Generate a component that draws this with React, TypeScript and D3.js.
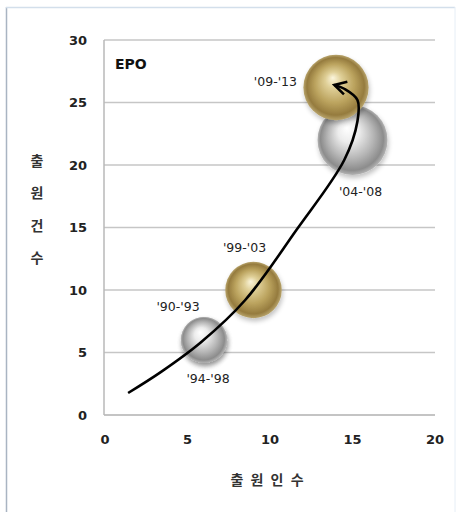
import React from "react";
import * as d3 from "d3";

const W = 458;
const H = 512;

const periods = ["'90-'93", "'94-'98", "'99-'03", "'04-'08", "'09-'13"];
const applicants = [6, 6, 9, 15, 14];
const applications = [6, 6, 10, 22, 26.2];
const bubbleSize = [5, 5, 7.5, 11.5, 10];
const bubbleTone = ["silver", "silver", "gold", "silver", "gold"];

const xTicks = [0, 5, 10, 15, 20];
const yTicks = [0, 5, 10, 15, 20, 25, 30];

const trendPath: [number, number][] = [
  [1.4, 1.76],
  [3.4, 3.45],
  [5.8, 5.8],
  [8.5, 9.2],
  [11.6, 14.8],
  [14.5, 20.4],
  [15.3, 23.5],
  [15.3, 25.2],
  [14.5, 26.1],
  [13.9, 26.4],
];

// label offsets (px) relative to bubble centre
const labelOffset: [number, number, string][] = [
  [-26, -33, "middle"],
  [4, 39, "middle"],
  [-9, -42, "middle"],
  [8, 52, "middle"],
  [-39, -6, "end"],
];

const yTitle = ["출", "원", "건", "수"];

export default function App() {
  const x = d3.scaleLinear().domain([0, 20]).range([105, 435]);
  const y = d3.scaleLinear().domain([0, 30]).range([415, 40]);
  const r = d3.scaleSqrt().domain([0, 11.5]).range([0, 35]);
  const line = d3
    .line<[number, number]>()
    .x((d) => x(d[0]))
    .y((d) => y(d[1]))
    .curve(d3.curveCatmullRom.alpha(0.5));

  const drawOrder = [0, 1, 2, 3, 4];

  return (
    <div style={{ position: "absolute", left: 0, top: 0 }}>
      <svg width={W} height={H} style={{ display: "block", fontFamily: "'DejaVu Sans', sans-serif" }}>
        <defs>
          <radialGradient id="gold" cx="50%" cy="50%" r="50%" fx="45%" fy="35%">
            <stop offset="0%" stopColor="#fbf5dc" />
            <stop offset="25%" stopColor="#dfcf97" />
            <stop offset="60%" stopColor="#bba35e" />
            <stop offset="88%" stopColor="#957b3e" />
            <stop offset="100%" stopColor="#b8a46c" />
          </radialGradient>
          <radialGradient id="silver" cx="50%" cy="50%" r="50%" fx="42%" fy="33%">
            <stop offset="0%" stopColor="#ffffff" />
            <stop offset="30%" stopColor="#ececec" />
            <stop offset="65%" stopColor="#b6b6b6" />
            <stop offset="90%" stopColor="#8c8c8c" />
            <stop offset="100%" stopColor="#b4b4b4" />
          </radialGradient>
          <filter id="shadow" x="-30%" y="-30%" width="160%" height="160%">
            <feGaussianBlur in="SourceAlpha" stdDeviation="2.5" />
            <feOffset dx="1" dy="3" result="b" />
            <feComponentTransfer>
              <feFuncA type="linear" slope="0.25" />
            </feComponentTransfer>
            <feMerge>
              <feMergeNode />
              <feMergeNode in="SourceGraphic" />
            </feMerge>
          </filter>
          <marker id="arrow" viewBox="0 0 12 12" refX="10" refY="6" markerWidth="6" markerHeight="6" orient="auto" markerUnits="strokeWidth">
            <path d="M1,1 L10,6 L1,11" fill="none" stroke="#000" strokeWidth="2" strokeLinejoin="miter" />
          </marker>
        </defs>
        <rect x={0} y={0} width={W} height={H} fill="#fff" />
        {/* frame */}
        <line x1={6.5} y1={7} x2={6.5} y2={H} stroke="#a9b4c2" strokeWidth={1.5} />
        <line x1={6} y1={7.5} x2={455} y2={7.5} stroke="#d3dfeb" strokeWidth={1.5} />
        <line x1={455} y1={7} x2={455} y2={H} stroke="#e6eef6" strokeWidth={1} />

        {/* gridlines */}
        {yTicks.map((t) => (
          <line key={t} x1={104} x2={435} y1={y(t)} y2={y(t)} stroke={t === 0 ? "#b0b0b0" : "#c6c6c6"} strokeWidth={1.5} />
        ))}
        <line x1={104} x2={104} y1={y(30)} y2={y(0)} stroke="#b8b8b8" strokeWidth={1.5} />

        {/* tick labels */}
        {yTicks.map((t) => (
          <text key={t} x={87} y={y(t)} dy="0.35em" textAnchor="end" fontSize={13} fontWeight="bold" fill="#222">
            {t}
          </text>
        ))}
        {xTicks.map((t) => (
          <text key={t} x={x(t)} y={439} dy="0.35em" textAnchor="middle" fontSize={13} fontWeight="bold" fill="#222">
            {t}
          </text>
        ))}

        {/* axis titles */}
        {yTitle.map((c, i) => (
          <text key={c} x={37} y={161 + i * 32.5} dy="0.35em" textAnchor="middle" fontSize={14} fontWeight="bold" fill="#333" fontFamily="'Noto Sans CJK KR', sans-serif">
            {c}
          </text>
        ))}
        <text x={268} y={480} dy="0.35em" textAnchor="middle" fontSize={14} fontWeight="bold" fill="#333" fontFamily="'Noto Sans CJK KR', sans-serif" letterSpacing={2}>
          출 원 인 수
        </text>

        <text x={115} y={64} dy="0.35em" fontSize={14} fontWeight="bold" fill="#111">
          EPO
        </text>

        {/* bubbles */}
        {drawOrder.map((i) => (
          <circle key={i} cx={x(applicants[i])} cy={y(applications[i])} r={r(bubbleSize[i])} fill={`url(#${bubbleTone[i]})`} filter="url(#shadow)" />
        ))}

        {/* labels */}
        {periods.map((p, i) => (
          <text
            key={p}
            x={x(applicants[i]) + labelOffset[i][0]}
            y={y(applications[i]) + labelOffset[i][1]}
            dy="0.35em"
            textAnchor={labelOffset[i][2] as any}
            fontSize={12.5}
            fill="#222"
          >
            {p}
          </text>
        ))}

        {/* trend arrow */}
        <path d={line(trendPath) || ""} fill="none" stroke="#000" strokeWidth={2.6} markerEnd="url(#arrow)" />
      </svg>
    </div>
  );
}
